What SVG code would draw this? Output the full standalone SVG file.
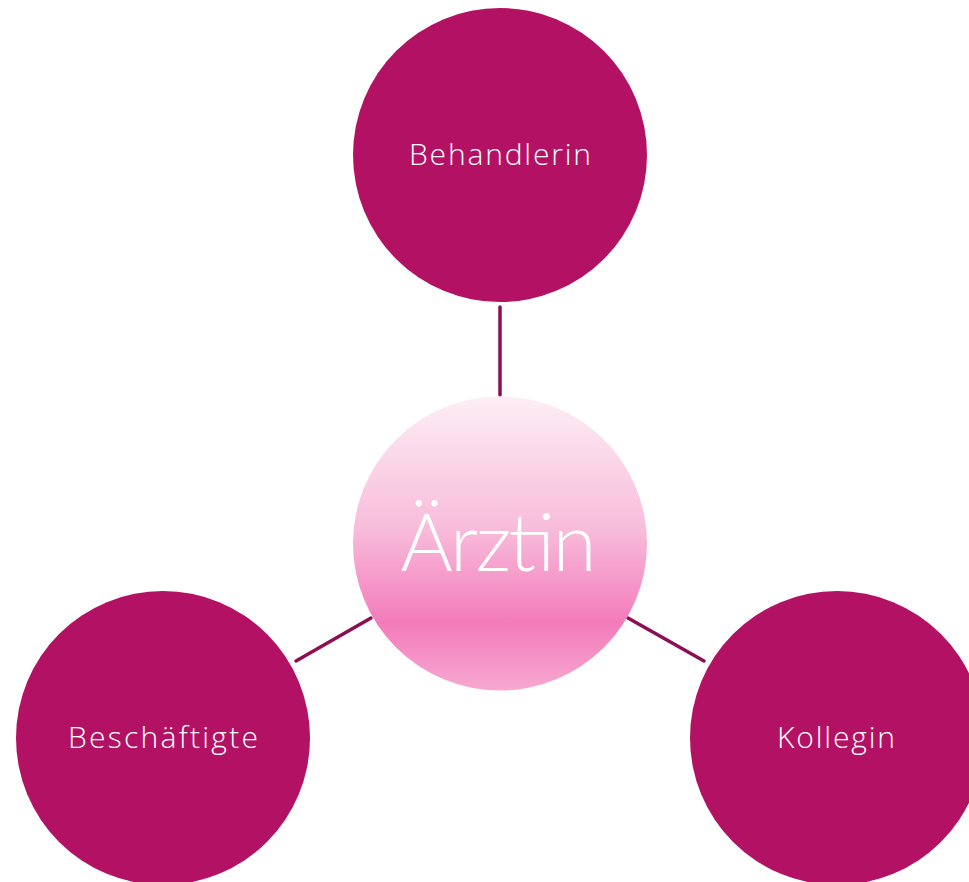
<svg xmlns="http://www.w3.org/2000/svg" width="969" height="882" viewBox="0 0 969 882">
<style>
.outer{fill:#B31264;}
.lbl{font-family:"Open Sans",Lato,sans-serif;font-weight:300;fill:#ffffff;text-anchor:middle;font-size:30px;}
.big{font-family:Lato,"Open Sans",sans-serif;font-weight:300;fill:#ffffff;text-anchor:middle;font-size:80px;}
.conn line{stroke:#8E0E53;stroke-width:3.5;stroke-linecap:round;}
</style>
<defs>
<linearGradient id="g" x1="0" y1="0" x2="0" y2="1">
<stop offset="0" stop-color="#FDEEF5"/>
<stop offset="0.45" stop-color="#F8BCDB"/>
<stop offset="0.77" stop-color="#F37BBA"/>
<stop offset="1" stop-color="#F7A8D1"/>
</linearGradient>
</defs>
<rect width="969" height="882" fill="#ffffff"/>
<g class="conn">
<line x1="500" y1="307" x2="500" y2="395"/>
<line x1="296" y1="661" x2="371" y2="618"/>
<line x1="628" y1="618" x2="704" y2="661"/>
</g>
<g id="behandlerin">
<circle class="outer" cx="500" cy="155" r="147"/>
<text class="lbl" x="500" y="165" textLength="182" lengthAdjust="spacing">Behandlerin</text>
</g>
<g id="aerztin">
<circle cx="500" cy="543.5" r="147" fill="url(#g)"/>
<text class="big" x="498.5" y="571" textLength="196" lengthAdjust="spacing">Ärztin</text>
</g>
<g id="beschaeftigte">
<circle class="outer" cx="163" cy="738" r="147"/>
<text class="lbl" x="163" y="748" textLength="190" lengthAdjust="spacing">Beschäftigte</text>
</g>
<g id="kollegin">
<circle class="outer" cx="837" cy="738" r="147"/>
<text class="lbl" x="836" y="748" textLength="118" lengthAdjust="spacing">Kollegin</text>
</g>
</svg>
